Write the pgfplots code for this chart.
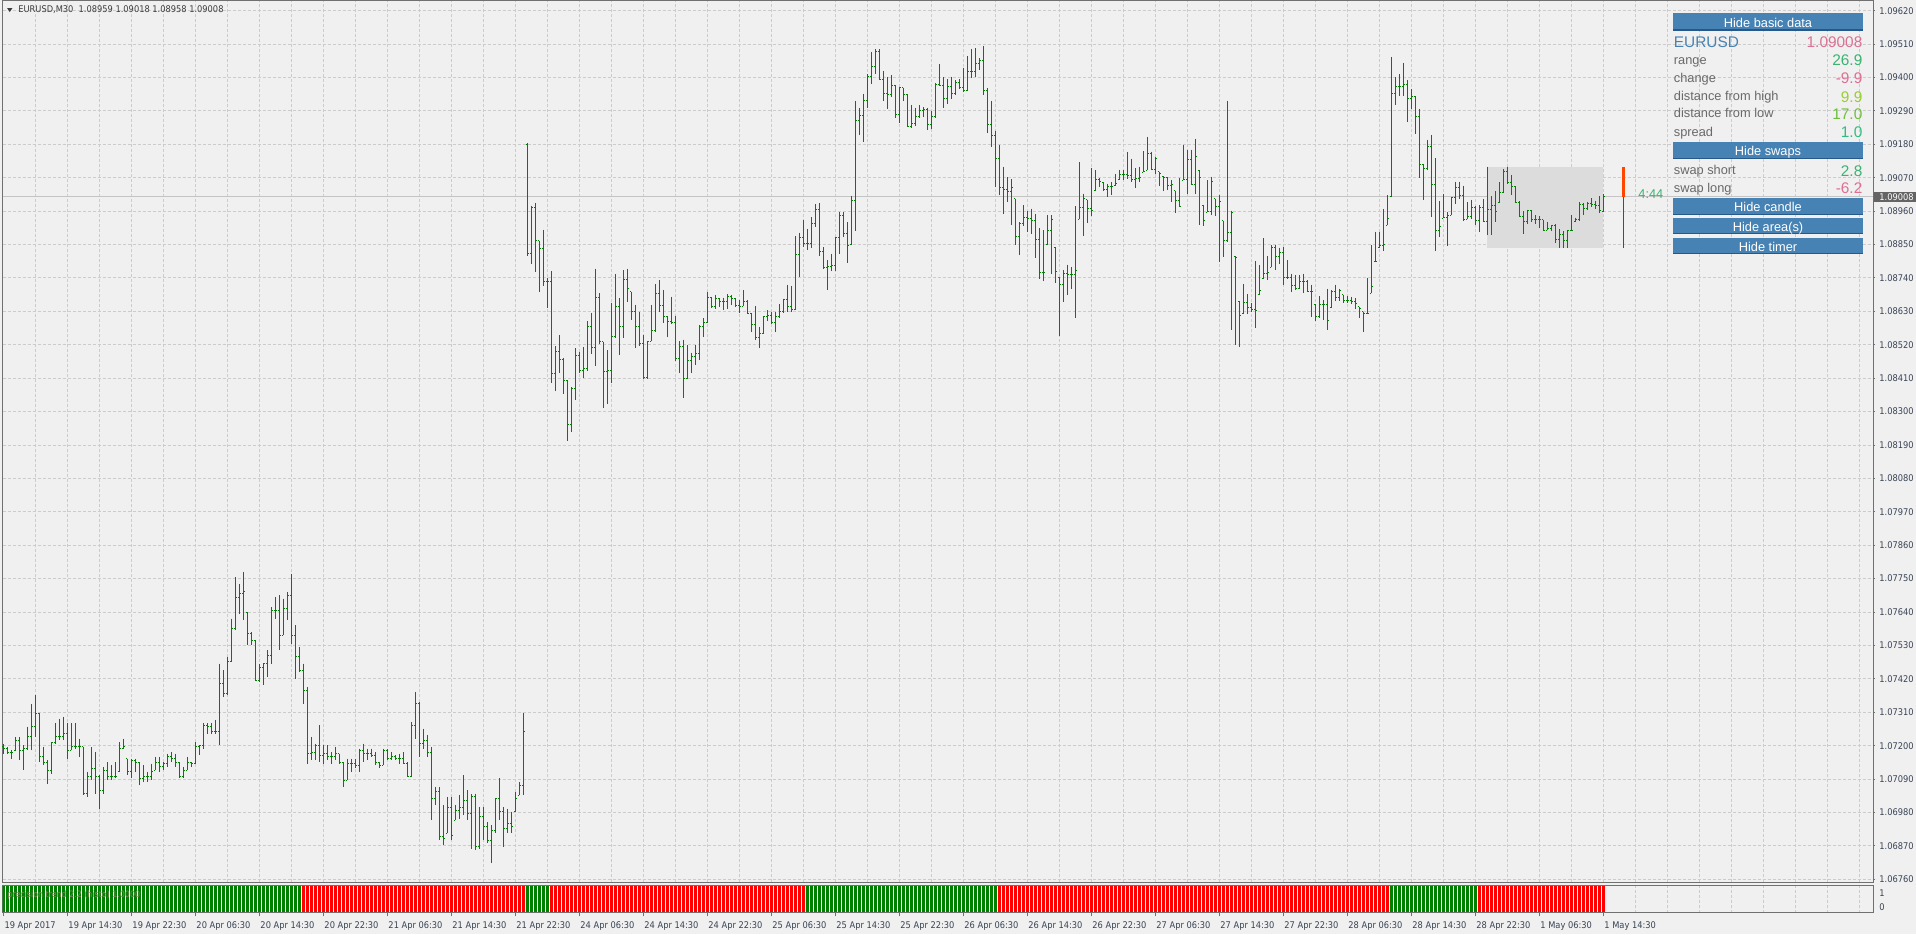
\documentclass[border=0pt]{standalone}
\usepackage{fontspec}
\setmainfont{Liberation Sans}
\newfontfamily\chartfont[FakeStretch=0.9]{DejaVu Sans}
\usepackage{pgfplots}
\usepackage{pgfplotstable}
\pgfplotsset{compat=1.18}

\definecolor{bg}{RGB}{240,240,240}
\definecolor{frame}{RGB}{112,112,112}
\definecolor{gridc}{RGB}{204,204,204}
\definecolor{lbl}{RGB}{56,66,84}
\definecolor{upc}{RGB}{0,128,0}
\definecolor{dnc}{RGB}{255,0,0}
\definecolor{pline}{RGB}{196,196,196}
\definecolor{areac}{RGB}{220,220,220}
\definecolor{orred}{RGB}{255,69,0}
\definecolor{btn}{RGB}{70,130,180}
\definecolor{btnd}{RGB}{38,88,138}
\definecolor{steel}{RGB}{70,130,180}
\definecolor{pvred}{RGB}{219,112,147}
\definecolor{msgreen}{RGB}{60,179,113}
\definecolor{ygreen}{RGB}{154,205,50}
\definecolor{lgreen}{RGB}{110,190,60}
\definecolor{sgreen}{RGB}{50,188,128}
\definecolor{dimg}{RGB}{105,105,105}
\definecolor{pricebox}{RGB}{100,100,100}
\definecolor{hdr}{RGB}{60,60,60}
\definecolor{indt}{RGB}{130,130,100}

\newcommand\cf{\chartfont\fontsize{4.6}{5.5}\selectfont}
\newcommand\pl{\fontsize{6.4}{7.6}\selectfont}
\newcommand\pv{\fontsize{7.7}{9}\selectfont}

% EURUSD M30 bars: index, open, high, low, close (one table per trend segment)
\pgfplotstableread{
x o h l c
0 1.07196 1.07207 1.07174 1.07190
1 1.07190 1.07196 1.07174 1.07179
2 1.07179 1.07185 1.07157 1.07179
3 1.07185 1.07229 1.07185 1.07218
4 1.07218 1.07229 1.07152 1.07185
5 1.07185 1.07201 1.07119 1.07190
6 1.07190 1.07262 1.07185 1.07229
7 1.07229 1.07338 1.07185 1.07262
8 1.07262 1.07366 1.07229 1.07306
9 1.07306 1.07306 1.07146 1.07163
10 1.07163 1.07196 1.07135 1.07146
11 1.07146 1.07152 1.07075 1.07119
12 1.07119 1.07212 1.07108 1.07212
13 1.07212 1.07273 1.07207 1.07229
14 1.07229 1.07289 1.07218 1.07229
15 1.07229 1.07295 1.07218 1.07240
16 1.07240 1.07273 1.07157 1.07185
17 1.07185 1.07273 1.07185 1.07196
18 1.07196 1.07273 1.07190 1.07196
19 1.07196 1.07223 1.07163 1.07196
20 1.07196 1.07196 1.07037 1.07042
21 1.07042 1.07114 1.07031 1.07097
22 1.07097 1.07196 1.07086 1.07125
23 1.07125 1.07179 1.07042 1.07097
24 1.07097 1.07103 1.06993 1.07053
25 1.07053 1.07130 1.07042 1.07119
26 1.07119 1.07146 1.07086 1.07097
27 1.07097 1.07135 1.07086 1.07097
28 1.07097 1.07146 1.07092 1.07097
29 1.07114 1.07212 1.07114 1.07190
30 1.07190 1.07223 1.07190 1.07196
31 1.07157 1.07157 1.07103 1.07114
32 1.07114 1.07157 1.07092 1.07152
33 1.07152 1.07157 1.07114 1.07146
34 1.07146 1.07146 1.07070 1.07092
35 1.07092 1.07135 1.07081 1.07097
36 1.07097 1.07114 1.07081 1.07097
37 1.07097 1.07141 1.07086 1.07114
38 1.07119 1.07163 1.07119 1.07146
39 1.07146 1.07163 1.07114 1.07130
40 1.07130 1.07146 1.07119 1.07141
41 1.07141 1.07174 1.07130 1.07163
42 1.07163 1.07179 1.07146 1.07157
43 1.07157 1.07174 1.07130 1.07146
44 1.07146 1.07146 1.07092 1.07097
45 1.07097 1.07130 1.07092 1.07119
46 1.07119 1.07163 1.07119 1.07146
47 1.07146 1.07146 1.07130 1.07141
48 1.07141 1.07212 1.07141 1.07196
49 1.07196 1.07201 1.07168 1.07201
50 1.07201 1.07273 1.07190 1.07267
51 1.07267 1.07273 1.07240 1.07262
52 1.07262 1.07273 1.07240 1.07245
53 1.07245 1.07284 1.07240 1.07245
54 1.07245 1.07470 1.07201 1.07404
55 1.07404 1.07448 1.07360 1.07371
56 1.07371 1.07492 1.07366 1.07476
57 1.07476 1.07618 1.07476 1.07585
58 1.07585 1.07755 1.07580 1.07689
59 1.07689 1.07733 1.07635 1.07700
60 1.07700 1.07772 1.07613 1.07706
61 1.07640 1.07640 1.07530 1.07569
62 1.07569 1.07574 1.07530 1.07547
63 1.07547 1.07547 1.07415 1.07415
64 1.07415 1.07470 1.07410 1.07459
65 1.07459 1.07470 1.07399 1.07470
66 1.07470 1.07514 1.07426 1.07498
67 1.07498 1.07656 1.07470 1.07645
68 1.07645 1.07689 1.07618 1.07645
69 1.07645 1.07695 1.07514 1.07563
70 1.07563 1.07684 1.07563 1.07651
71 1.07651 1.07706 1.07613 1.07695
72 1.07695 1.07766 1.07536 1.07563
73 1.07563 1.07596 1.07421 1.07492
74 1.07492 1.07525 1.07443 1.07448
}\segA
\pgfplotstableread{
x o h l c
75 1.07448 1.07470 1.07338 1.07382
76 1.07382 1.07393 1.07141 1.07174
77 1.07174 1.07229 1.07152 1.07179
78 1.07179 1.07207 1.07152 1.07201
79 1.07201 1.07267 1.07146 1.07168
80 1.07168 1.07201 1.07141 1.07174
81 1.07174 1.07201 1.07152 1.07163
82 1.07163 1.07179 1.07141 1.07163
83 1.07163 1.07196 1.07152 1.07174
84 1.07174 1.07174 1.07141 1.07146
85 1.07146 1.07146 1.07064 1.07086
86 1.07086 1.07157 1.07086 1.07141
87 1.07141 1.07157 1.07114 1.07141
88 1.07141 1.07157 1.07125 1.07135
89 1.07135 1.07190 1.07114 1.07185
90 1.07185 1.07207 1.07146 1.07174
91 1.07174 1.07190 1.07152 1.07174
92 1.07174 1.07190 1.07163 1.07168
93 1.07168 1.07179 1.07135 1.07146
94 1.07146 1.07146 1.07125 1.07135
95 1.07135 1.07190 1.07135 1.07185
96 1.07185 1.07190 1.07152 1.07157
97 1.07157 1.07179 1.07152 1.07163
98 1.07163 1.07168 1.07152 1.07157
99 1.07157 1.07174 1.07141 1.07157
100 1.07157 1.07179 1.07141 1.07141
101 1.07141 1.07146 1.07097 1.07097
102 1.07097 1.07278 1.07097 1.07267
103 1.07267 1.07377 1.07223 1.07338
104 1.07338 1.07344 1.07163 1.07207
105 1.07207 1.07256 1.07190 1.07218
106 1.07218 1.07234 1.07163 1.07179
107 1.07179 1.07196 1.06955 1.07026
108 1.07026 1.07064 1.07004 1.07048
109 1.07048 1.07064 1.06889 1.06900
110 1.06900 1.07004 1.06872 1.06894
111 1.06911 1.07031 1.06911 1.06998
112 1.06998 1.07031 1.06889 1.06905
113 1.06955 1.07004 1.06955 1.06987
114 1.06987 1.07037 1.06960 1.06998
115 1.06998 1.07103 1.06971 1.07020
116 1.07020 1.07053 1.06955 1.06975
117 1.06975 1.07042 1.06861 1.07031
118 1.07031 1.07042 1.06856 1.06867
119 1.06867 1.06998 1.06861 1.06966
120 1.06966 1.06998 1.06889 1.06933
121 1.06933 1.06949 1.06878 1.06889
122 1.06889 1.06938 1.06812 1.06922
123 1.06922 1.07026 1.06911 1.07026
124 1.07026 1.07092 1.06955 1.06982
125 1.06982 1.06998 1.06867 1.06927
126 1.06927 1.06993 1.06911 1.06944
127 1.06944 1.06982 1.06911 1.06933
128 1.06982 1.07048 1.06982 1.07026
129 1.07037 1.07081 1.07037 1.07070
130 1.07070 1.07306 1.07037 1.07245
}\segB
\pgfplotstableread{
x o h l c
131 1.09181 1.09183 1.08814 1.08820
132 1.08820 1.08978 1.08787 1.08971
133 1.08971 1.08987 1.08759 1.08863
134 1.08863 1.08863 1.08694 1.08836
135 1.08836 1.08899 1.08712 1.08730
136 1.08730 1.08741 1.08641 1.08730
}\segC
\pgfplotstableread{
x o h l c
137 1.08730 1.08762 1.08395 1.08426
138 1.08426 1.08515 1.08369 1.08497
139 1.08497 1.08551 1.08428 1.08472
140 1.08472 1.08475 1.08358 1.08401
141 1.08401 1.08404 1.08204 1.08258
142 1.08258 1.08382 1.08234 1.08376
143 1.08376 1.08508 1.08338 1.08484
144 1.08484 1.08497 1.08426 1.08436
145 1.08436 1.08513 1.08411 1.08442
146 1.08442 1.08598 1.08434 1.08581
147 1.08581 1.08626 1.08491 1.08511
148 1.08511 1.08770 1.08450 1.08677
149 1.08677 1.08690 1.08521 1.08530
150 1.08530 1.08530 1.08313 1.08431
151 1.08431 1.08502 1.08325 1.08434
152 1.08434 1.08659 1.08395 1.08548
153 1.08548 1.08752 1.08543 1.08647
154 1.08647 1.08674 1.08486 1.08581
155 1.08581 1.08765 1.08543 1.08734
156 1.08734 1.08770 1.08661 1.08705
157 1.08694 1.08694 1.08601 1.08631
158 1.08631 1.08652 1.08511 1.08579
159 1.08579 1.08628 1.08515 1.08524
160 1.08524 1.08551 1.08409 1.08412
161 1.08412 1.08533 1.08409 1.08530
162 1.08532 1.08650 1.08532 1.08568
163 1.08568 1.08719 1.08562 1.08690
164 1.08690 1.08732 1.08628 1.08650
165 1.08650 1.08699 1.08592 1.08614
166 1.08614 1.08614 1.08546 1.08598
167 1.08598 1.08679 1.08590 1.08592
168 1.08592 1.08614 1.08467 1.08475
169 1.08475 1.08532 1.08426 1.08513
170 1.08513 1.08537 1.08346 1.08409
171 1.08409 1.08519 1.08406 1.08469
172 1.08469 1.08494 1.08428 1.08480
173 1.08480 1.08519 1.08453 1.08491
174 1.08491 1.08584 1.08469 1.08579
175 1.08579 1.08608 1.08546 1.08592
176 1.08592 1.08694 1.08592 1.08675
177 1.08675 1.08677 1.08642 1.08647
178 1.08647 1.08683 1.08639 1.08672
179 1.08672 1.08674 1.08644 1.08663
180 1.08663 1.08675 1.08636 1.08663
181 1.08663 1.08686 1.08639 1.08679
182 1.08679 1.08683 1.08650 1.08672
183 1.08672 1.08674 1.08644 1.08648
184 1.08648 1.08666 1.08626 1.08647
185 1.08647 1.08699 1.08647 1.08661
186 1.08661 1.08666 1.08620 1.08623
187 1.08623 1.08625 1.08562 1.08588
188 1.08588 1.08647 1.08537 1.08544
189 1.08544 1.08579 1.08511 1.08557
190 1.08557 1.08614 1.08557 1.08614
191 1.08614 1.08634 1.08598 1.08615
192 1.08615 1.08628 1.08590 1.08595
193 1.08595 1.08628 1.08562 1.08614
194 1.08614 1.08653 1.08609 1.08628
195 1.08628 1.08672 1.08625 1.08669
196 1.08669 1.08716 1.08628 1.08647
197 1.08647 1.08712 1.08628 1.08636
198 1.08636 1.08878 1.08634 1.08817
199 1.08817 1.08889 1.08743 1.08874
200 1.08874 1.08932 1.08841 1.08852
}\segD
\pgfplotstableread{
x o h l c
201 1.08852 1.08902 1.08831 1.08852
202 1.08852 1.08940 1.08839 1.08920
203 1.08920 1.08982 1.08907 1.08967
204 1.08967 1.08986 1.08814 1.08827
205 1.08827 1.08841 1.08770 1.08776
206 1.08776 1.08798 1.08701 1.08778
207 1.08778 1.08820 1.08762 1.08781
208 1.08781 1.08876 1.08762 1.08874
209 1.08874 1.08956 1.08820 1.08945
210 1.08945 1.08956 1.08874 1.08887
211 1.08887 1.08924 1.08789 1.08847
212 1.08850 1.09011 1.08850 1.08995
213 1.08995 1.09323 1.08894 1.09260
214 1.09260 1.09301 1.09211 1.09274
215 1.09274 1.09347 1.09188 1.09323
216 1.09323 1.09411 1.09301 1.09405
217 1.09405 1.09484 1.09378 1.09435
218 1.09435 1.09493 1.09411 1.09487
219 1.09487 1.09493 1.09394 1.09394
220 1.09394 1.09421 1.09323 1.09347
221 1.09347 1.09402 1.09298 1.09343
222 1.09343 1.09407 1.09336 1.09374
223 1.09374 1.09374 1.09266 1.09279
224 1.09279 1.09370 1.09250 1.09367
225 1.09367 1.09367 1.09323 1.09343
226 1.09343 1.09345 1.09238 1.09238
227 1.09238 1.09310 1.09233 1.09249
228 1.09249 1.09301 1.09241 1.09272
229 1.09272 1.09309 1.09266 1.09292
230 1.09292 1.09303 1.09270 1.09296
231 1.09296 1.09299 1.09227 1.09246
232 1.09246 1.09290 1.09232 1.09272
233 1.09272 1.09381 1.09266 1.09378
234 1.09378 1.09443 1.09374 1.09374
235 1.09374 1.09402 1.09301 1.09332
236 1.09332 1.09394 1.09312 1.09370
237 1.09370 1.09403 1.09328 1.09347
238 1.09347 1.09391 1.09343 1.09385
239 1.09385 1.09394 1.09361 1.09367
240 1.09367 1.09432 1.09354 1.09358
241 1.09358 1.09471 1.09356 1.09419
242 1.09419 1.09493 1.09397 1.09421
243 1.09421 1.09498 1.09402 1.09446
244 1.09446 1.09465 1.09424 1.09457
245 1.09457 1.09504 1.09343 1.09356
246 1.09356 1.09365 1.09216 1.09244
247 1.09244 1.09323 1.09170 1.09210
248 1.09210 1.09225 1.09038 1.09132
}\segE
\pgfplotstableread{
x o h l c
249 1.09132 1.09179 1.09014 1.09038
250 1.09038 1.09106 1.08951 1.09030
251 1.09030 1.09071 1.08989 1.09026
252 1.09026 1.09066 1.08916 1.09039
253 1.09001 1.09001 1.08847 1.08875
254 1.08875 1.08924 1.08815 1.08918
255 1.08918 1.08979 1.08910 1.08938
256 1.08938 1.08960 1.08891 1.08935
257 1.08935 1.08968 1.08886 1.08929
258 1.08929 1.08951 1.08806 1.08866
259 1.08866 1.08904 1.08736 1.08758
260 1.08758 1.08897 1.08729 1.08758
261 1.08850 1.08946 1.08850 1.08897
262 1.08897 1.08946 1.08754 1.08933
263 1.08842 1.08842 1.08724 1.08760
264 1.08743 1.08743 1.08550 1.08718
265 1.08718 1.08765 1.08661 1.08754
266 1.08754 1.08784 1.08683 1.08752
267 1.08752 1.08776 1.08705 1.08751
268 1.08751 1.08976 1.08609 1.08765
269 1.08933 1.09121 1.08933 1.08973
270 1.08973 1.09017 1.08878 1.09001
271 1.08998 1.08998 1.08921 1.08968
272 1.08968 1.09101 1.08944 1.08962
273 1.09028 1.09094 1.09028 1.09063
274 1.09063 1.09068 1.09039 1.09057
275 1.09055 1.09055 1.09028 1.09030
276 1.09030 1.09050 1.09006 1.09042
277 1.09042 1.09055 1.09012 1.09042
278 1.09044 1.09083 1.09044 1.09052
279 1.09063 1.09097 1.09063 1.09080
280 1.09080 1.09094 1.09063 1.09080
281 1.09080 1.09154 1.09066 1.09077
282 1.09077 1.09132 1.09057 1.09063
283 1.09063 1.09101 1.09036 1.09066
284 1.09066 1.09105 1.09055 1.09070
285 1.09088 1.09158 1.09088 1.09090
286 1.09094 1.09205 1.09094 1.09151
287 1.09151 1.09156 1.09094 1.09097
288 1.09097 1.09137 1.09083 1.09132
289 1.09090 1.09090 1.09044 1.09083
290 1.09075 1.09075 1.09028 1.09072
291 1.09072 1.09072 1.09030 1.09044
292 1.09044 1.09061 1.08990 1.09047
293 1.09028 1.09028 1.08954 1.08995
294 1.08995 1.09070 1.08973 1.08977
295 1.09061 1.09179 1.09061 1.09063
296 1.09063 1.09163 1.09015 1.09129
297 1.09129 1.09163 1.09047 1.09047
298 1.09047 1.09198 1.09017 1.09140
299 1.09094 1.09094 1.08913 1.09070
300 1.08979 1.08979 1.08911 1.08929
301 1.08957 1.09061 1.08957 1.08959
302 1.08959 1.09074 1.08946 1.09057
303 1.09001 1.09001 1.08944 1.08977
304 1.08977 1.09012 1.08793 1.08992
305 1.08929 1.08929 1.08809 1.08864
306 1.08864 1.09323 1.08860 1.08889
307 1.08889 1.08962 1.08568 1.08955
308 1.08811 1.08811 1.08519 1.08809
309 1.08663 1.08663 1.08514 1.08615
310 1.08623 1.08719 1.08623 1.08659
311 1.08659 1.08686 1.08623 1.08642
312 1.08642 1.08656 1.08628 1.08636
313 1.08636 1.08795 1.08576 1.08632
314 1.08685 1.08782 1.08685 1.08700
315 1.08738 1.08871 1.08738 1.08754
316 1.08754 1.08812 1.08732 1.08758
317 1.08776 1.08847 1.08776 1.08842
318 1.08842 1.08847 1.08765 1.08811
319 1.08811 1.08840 1.08787 1.08825
320 1.08825 1.08842 1.08718 1.08741
321 1.08741 1.08798 1.08738 1.08741
322 1.08741 1.08754 1.08694 1.08714
323 1.08714 1.08749 1.08700 1.08705
324 1.08705 1.08749 1.08705 1.08729
325 1.08729 1.08754 1.08689 1.08730
326 1.08730 1.08732 1.08694 1.08696
327 1.08696 1.08718 1.08612 1.08694
328 1.08653 1.08653 1.08598 1.08612
329 1.08612 1.08680 1.08609 1.08653
330 1.08653 1.08667 1.08601 1.08653
331 1.08653 1.08705 1.08568 1.08601
332 1.08642 1.08700 1.08642 1.08694
333 1.08694 1.08718 1.08663 1.08676
334 1.08676 1.08705 1.08663 1.08700
335 1.08685 1.08685 1.08659 1.08667
336 1.08667 1.08681 1.08656 1.08667
337 1.08667 1.08678 1.08653 1.08661
338 1.08661 1.08674 1.08639 1.08656
339 1.08645 1.08645 1.08609 1.08639
340 1.08628 1.08628 1.08563 1.08623
341 1.08623 1.08741 1.08620 1.08623
342 1.08689 1.08847 1.08689 1.08711
343 1.08793 1.08893 1.08793 1.08795
344 1.08839 1.08893 1.08839 1.08847
345 1.08847 1.08966 1.08828 1.08850
346 1.08913 1.09012 1.08913 1.08935
}\segF
\pgfplotstableread{
x o h l c
347 1.09008 1.09468 1.09008 1.09348
348 1.09348 1.09402 1.09310 1.09371
349 1.09371 1.09411 1.09340 1.09371
350 1.09371 1.09447 1.09338 1.09378
351 1.09378 1.09392 1.09255 1.09332
352 1.09332 1.09362 1.09298 1.09338
353 1.09338 1.09340 1.09214 1.09271
354 1.09271 1.09298 1.09068 1.09115
355 1.09115 1.09115 1.08998 1.09101
356 1.09101 1.09195 1.09097 1.09172
357 1.09172 1.09211 1.08940 1.09047
358 1.09047 1.09134 1.08829 1.08896
359 1.08896 1.08992 1.08875 1.08908
360 1.08937 1.09017 1.08937 1.08940
361 1.08940 1.08957 1.08845 1.08946
362 1.08946 1.09006 1.08946 1.09004
363 1.09004 1.09057 1.08984 1.09037
364 1.09037 1.09057 1.09001 1.09012
365 1.09012 1.09044 1.08929 1.08933
366 1.08933 1.08990 1.08933 1.08944
367 1.08944 1.08998 1.08935 1.08971
368 1.08971 1.08977 1.08913 1.08929
}\segG
\pgfplotstableread{
x o h l c
369 1.08929 1.08979 1.08892 1.08972
370 1.08972 1.09001 1.08925 1.08927
371 1.08927 1.09107 1.08881 1.08965
372 1.08965 1.09009 1.08881 1.08979
373 1.08979 1.09025 1.08925 1.08960
374 1.08987 1.09056 1.08987 1.09020
375 1.09020 1.09098 1.09020 1.09091
376 1.09091 1.09107 1.09051 1.09054
377 1.09054 1.09078 1.09012 1.09042
378 1.09042 1.09042 1.08987 1.08990
379 1.08990 1.08993 1.08941 1.08943
380 1.08943 1.08960 1.08886 1.08927
381 1.08927 1.08965 1.08917 1.08961
382 1.08961 1.08963 1.08925 1.08932
383 1.08932 1.08947 1.08919 1.08932
384 1.08932 1.08943 1.08906 1.08932
385 1.08932 1.08932 1.08895 1.08897
386 1.08897 1.08925 1.08897 1.08903
387 1.08903 1.08914 1.08894 1.08914
388 1.08914 1.08917 1.08856 1.08867
389 1.08867 1.08901 1.08839 1.08884
390 1.08884 1.08895 1.08839 1.08865
391 1.08865 1.08897 1.08839 1.08895
392 1.08895 1.08947 1.08895 1.08897
393 1.08925 1.08939 1.08925 1.08932
394 1.08932 1.08990 1.08927 1.08983
395 1.08983 1.08987 1.08947 1.08968
396 1.08968 1.08990 1.08963 1.08985
397 1.08985 1.09003 1.08974 1.08983
398 1.08983 1.08994 1.08968 1.08979
399 1.08979 1.09009 1.08955 1.08961
400 1.08959 1.09018 1.08958 1.09008
}\segH

% one OHLC bar series: open tick, close tick, high-low line
\newcommand\ohlc[2]{%
  \addplot[forget plot, draw=none, mark=none, error bars/.cd, x dir=minus, x fixed=0.375,
    error mark=none, error bar style={draw=upc, line width=0.5pt}] table[x=x, y=o] {#1};
  \addplot[forget plot, draw=none, mark=none, error bars/.cd, x dir=plus, x fixed=0.375,
    error mark=none, error bar style={draw=upc, line width=0.5pt}] table[x=x, y=c] {#1};
  \addplot[forget plot, draw=none, mark=none, error bars/.cd, y dir=minus, y explicit,
    error mark=none, error bar style={draw=#2, line width=0.5pt}]
    table[x=x, y=h, y error expr=\thisrow{h}-\thisrow{l}] {#1};
}
\newcommand\histo[2]{%
  \addplot[forget plot, ycomb, mark=none, draw=#2, line width=1.5pt] table[x=x, y expr=1] {#1};
}

\begin{document}
\begin{tikzpicture}
\fill[bg] (0,0) rectangle (958pt,-467pt);
\path[use as bounding box] (0,0) rectangle (958pt,-467pt);

\begin{axis}[
    at={(1.35pt,-0.35pt)}, anchor=north west,
    width=935.15pt, height=440.8pt, scale only axis,
    xmin=-0.2, xmax=467.4, ymin=1.0675, ymax=1.09653,
    axis line style={draw=frame, line width=0.5pt},
    clip=false,
    xtick={8,16,...,464}, xticklabels={}, xtick style={draw=none},
    ytick={1.0676,1.0687,1.0698,1.0709,1.072,1.0731,1.0742,1.0753,1.0764,1.0775,1.0786,1.0797,1.0808,1.0819,1.083,1.0841,1.0852,1.0863,1.0874,1.0885,1.0896,1.0907,1.0918,1.0929,1.094,1.0951,1.0962},
    yticklabels={1.06760,1.06870,1.06980,1.07090,1.07200,1.07310,1.07420,1.07530,1.07640,1.07750,1.07860,1.07970,1.08080,1.08190,1.08300,1.08410,1.08520,1.08630,1.08740,1.08850,1.08960,1.09070,1.09180,1.09290,1.09400,1.09510,1.09620},
    ytick pos=right, yticklabel pos=right,
    ytick style={draw=frame, line width=0.5pt},
    tick align=outside, major tick length=1pt,
    grid=major,
    major grid style={draw=gridc, line width=0.5pt, dash pattern=on 1.5pt off 1pt},
    ticklabel style={font=\cf, text=lbl},
    yticklabel style={anchor=west, inner sep=0pt, xshift=2pt},
]
\addplot[forget plot, draw=pline, line width=0.5pt] coordinates {(-0.2,1.09008) (467.4,1.09008)};
\addplot[forget plot, fill=areac, draw=none] coordinates {(371,1.08838) (400,1.08838) (400,1.09107) (371,1.09107)} -- cycle;
\ohlc{\segA}{upc}
\ohlc{\segB}{dnc}
\ohlc{\segC}{upc}
\ohlc{\segD}{dnc}
\ohlc{\segE}{upc}
\ohlc{\segF}{dnc}
\ohlc{\segG}{upc}
\ohlc{\segH}{dnc}
% current day candle
\addplot[forget plot, draw=dnc, line width=0.5pt] coordinates {(405,1.08838) (405,1.09107)};
\addplot[forget plot, draw=orred, line width=1.6pt] coordinates {(405,1.09008) (405,1.09107)};
\end{axis}

\begin{axis}[
    at={(1.35pt,-442.5pt)}, anchor=north west,
    width=935.15pt, height=13.85pt, scale only axis,
    xmin=-0.2, xmax=467.4, ymin=-0.04, ymax=1.04,
    axis line style={draw=frame, line width=0.5pt},
    ytick=\empty,
    xtick={8,16,...,464}, xticklabels={},
    xmajorgrids,
    major grid style={draw=gridc, line width=0.5pt, dash pattern=on 1.5pt off 1pt},
    xtick pos=bottom, tick align=outside, major tick length=0pt,
    tick style={draw=frame, line width=0.5pt},
    extra x ticks={0,16,...,400},
    extra x tick labels={19 Apr 2017,19 Apr 14:30,19 Apr 22:30,20 Apr 06:30,20 Apr 14:30,20 Apr 22:30,21 Apr 06:30,21 Apr 14:30,21 Apr 22:30,24 Apr 06:30,24 Apr 14:30,24 Apr 22:30,25 Apr 06:30,25 Apr 14:30,25 Apr 22:30,26 Apr 06:30,26 Apr 14:30,26 Apr 22:30,27 Apr 06:30,27 Apr 14:30,27 Apr 22:30,28 Apr 06:30,28 Apr 14:30,28 Apr 22:30,1 May 06:30,1 May 14:30},
    extra x tick style={grid=none, major tick length=1.65pt},
    ticklabel style={font=\cf, text=lbl},
    xticklabel style={anchor=north west, inner sep=0pt, xshift=0.3pt, yshift=-2.8pt},
]
\addplot[forget plot, fill=white, draw=none] coordinates {(-0.2,0) (400.5,0) (400.5,1) (-0.2,1)} -- cycle;
\histo{\segA}{upc}
\histo{\segB}{dnc}
\histo{\segC}{upc}
\histo{\segD}{dnc}
\histo{\segE}{upc}
\histo{\segF}{dnc}
\histo{\segG}{upc}
\histo{\segH}{dnc}
\end{axis}

\begin{scope}[x=0.5pt, y=-0.5pt]
% chart header
\fill[hdr] (7,8) -- (12.5,8) -- (9.75,12) -- cycle;
\node[anchor=west, inner sep=0pt, text=hdr, font=\cf] at (18,10) {EURUSD,M30\ \ 1.08959 1.09018 1.08958 1.09008};
% indicator window
\node[anchor=west, inner sep=0pt, text=indt, font=\chartfont\fontsize{4.4}{5}\selectfont] at (7,895) {precision trend 2.2 (histo) 1.0000};
\node[anchor=west, inner sep=0pt, text=lbl, font=\cf] at (1879,892.7) {1};
\node[anchor=west, inner sep=0pt, text=lbl, font=\cf] at (1879,906.7) {0};
% bid price label
\fill[pricebox] (1874,191.7) rectangle (1916,201.7);
\node[anchor=west, inner sep=0pt, text=white, font=\cf] at (1879,196.7) {1.09008};
% candle timer
\node[anchor=base west, inner sep=0pt, text=msgreen, font=\pl] at (1638,198.9) {4:44};
% info panel buttons
\foreach \ya/\yb/\lab in {13.3/30.7/Hide basic data, 141.7/159/Hide swaps, 198.3/215/Hide candle, 217.7/234.3/Hide area(s), 237.7/254.3/Hide timer}{
  \fill[btn] (1673.3,\ya) rectangle (1862.7,\yb);
  \fill[btnd] (1673.3,\yb-1.3) rectangle (1862.7,\yb);
  \node[anchor=base, inner sep=0pt, text=white, font=\pl] at (1768,{(\ya+\yb)/2+5.0}) {\lab};
}
% info panel rows
\node[anchor=base west, inner sep=0pt, text=steel, font=\pv] at (1673.5,47.7) {EURUSD};
\node[anchor=base east, inner sep=0pt, text=pvred, font=\pv] at (1862.7,47.7) {1.09008};
\foreach \yl/\yv/\lab/\val/\col in {64.0/65.8/range/26.9/msgreen, 82.0/83.8/change/-9.9/pvred, 100.4/102.2/distance from high/9.9/ygreen, 117.7/119.5/distance from low/17.0/lgreen, 136.0/137.8/spread/1.0/sgreen, 174.4/176.2/swap short/2.8/msgreen, 192.0/193.8/swap long/-6.2/pvred}{
  \node[anchor=base west, inner sep=0pt, text=dimg, font=\pl] at (1673.5,\yl) {\lab};
  \node[anchor=base east, inner sep=0pt, text=\col, font=\pv] at (1862.7,\yv) {\val};
}
\end{scope}
\end{tikzpicture}
\end{document}
